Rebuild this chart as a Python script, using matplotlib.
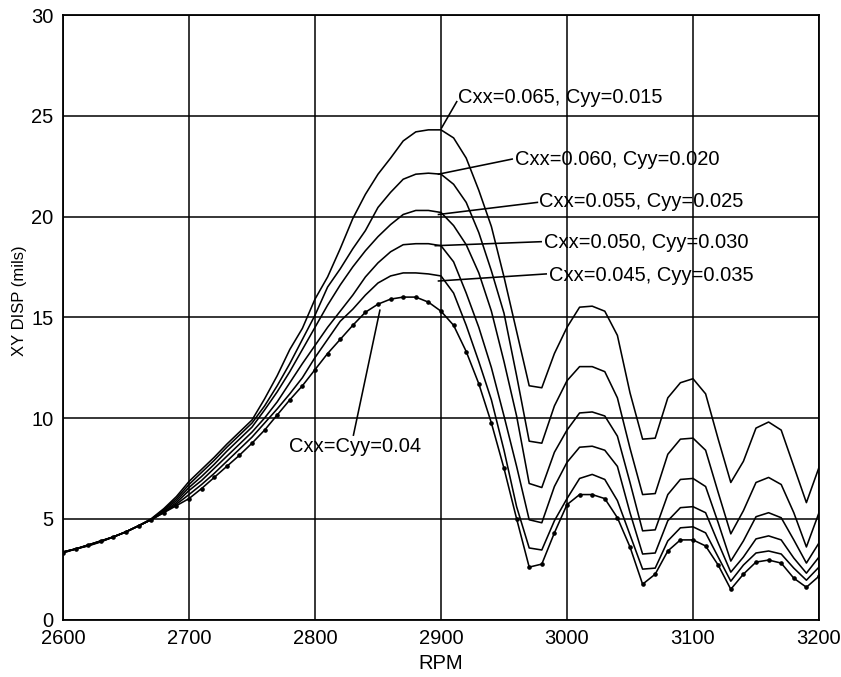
import numpy as np
import matplotlib
matplotlib.use("Agg")
import matplotlib.pyplot as plt

plt.rcParams['font.family'] = ['Liberation Sans', 'DejaVu Sans']

rpm = np.arange(2600, 3201, 10)

c040 = [3.30, 3.50, 3.70, 3.90, 4.10, 4.35, 4.65, 4.95, 5.30, 5.65, 6.00,
        6.50, 7.05, 7.60, 8.15, 8.75, 9.40, 10.15, 10.90, 11.60, 12.40,
        13.20, 13.90, 14.60, 15.25, 15.65, 15.90, 16.00, 16.00, 15.75, 15.30,
        14.60, 13.30, 11.70, 9.75, 7.50, 5.00, 2.60, 2.75, 4.30, 5.70,
        6.20, 6.20, 6.00, 5.05, 3.60, 1.75, 2.25, 3.40, 3.95, 3.95,
        3.65, 2.70, 1.50, 2.25, 2.85, 2.95, 2.80, 2.05, 1.60, 2.15]
c045 = [3.32, 3.50, 3.70, 3.90, 4.10, 4.35, 4.65, 4.95, 5.32, 5.72, 6.20,
        6.70, 7.25, 7.85, 8.45, 9.05, 9.75, 10.45, 11.20, 12.00, 13.00,
        13.90, 14.80, 15.40, 16.10, 16.70, 17.05, 17.20, 17.20, 17.15, 17.05,
        16.20, 14.60, 12.80, 10.90, 8.40, 5.60, 3.55, 3.45, 4.90, 6.00,
        7.00, 7.20, 6.95, 5.90, 4.20, 2.50, 2.55, 3.90, 4.55, 4.60,
        4.30, 3.10, 1.90, 2.70, 3.30, 3.40, 3.25, 2.55, 1.95, 2.60]
c050 = [3.35, 3.50, 3.69, 3.89, 4.10, 4.35, 4.65, 4.96, 5.35, 5.80, 6.40,
        6.90, 7.50, 8.10, 8.70, 9.30, 10.00, 10.80, 11.75, 12.70, 13.60,
        14.50, 15.30, 16.10, 17.00, 17.70, 18.25, 18.60, 18.65, 18.65, 18.55,
        17.75, 16.20, 14.50, 12.50, 10.10, 7.60, 4.95, 4.80, 6.60, 7.80,
        8.55, 8.60, 8.40, 7.60, 5.30, 3.25, 3.30, 4.90, 5.55, 5.60,
        5.30, 3.80, 2.35, 3.10, 4.00, 4.15, 3.95, 3.05, 2.30, 3.10]
c055 = [3.35, 3.50, 3.68, 3.88, 4.10, 4.35, 4.65, 4.96, 5.40, 5.90, 6.55,
        7.10, 7.70, 8.35, 8.95, 9.55, 10.40, 11.30, 12.30, 13.40, 14.50,
        15.60, 16.60, 17.50, 18.30, 19.00, 19.60, 20.10, 20.30, 20.30, 20.20,
        19.55, 18.60, 17.20, 15.30, 12.80, 10.10, 6.75, 6.55, 8.30, 9.40,
        10.25, 10.30, 10.10, 9.10, 6.80, 4.40, 4.45, 6.20, 6.95, 7.00,
        6.60, 4.80, 2.90, 3.90, 5.10, 5.30, 5.05, 3.95, 2.80, 3.80]
c060 = [3.35, 3.50, 3.67, 3.87, 4.10, 4.35, 4.65, 4.97, 5.45, 6.00, 6.70,
        7.30, 7.90, 8.55, 9.15, 9.75, 10.60, 11.60, 12.70, 13.90, 15.10,
        16.50, 17.40, 18.40, 19.30, 20.45, 21.20, 21.85, 22.10, 22.15, 22.10,
        21.60, 20.70, 19.20, 17.30, 15.20, 12.10, 8.85, 8.75, 10.60, 11.85,
        12.55, 12.55, 12.30, 11.00, 8.50, 6.20, 6.25, 8.20, 8.95, 9.00,
        8.40, 6.30, 4.25, 5.40, 6.80, 7.05, 6.70, 5.30, 3.60, 5.30]
c065 = [3.35, 3.50, 3.65, 3.85, 4.10, 4.35, 4.65, 5.00, 5.50, 6.10, 6.85,
        7.45, 8.05, 8.70, 9.30, 9.90, 10.95, 12.10, 13.40, 14.45, 15.90,
        17.00, 18.40, 19.90, 21.10, 22.10, 22.90, 23.75, 24.20, 24.30, 24.30,
        23.90, 22.90, 21.30, 19.50, 17.00, 14.30, 11.60, 11.50, 13.20, 14.50,
        15.50, 15.55, 15.30, 14.10, 11.25, 8.95, 9.00, 11.00, 11.75, 11.95,
        11.20, 8.95, 6.80, 7.85, 9.50, 9.80, 9.40, 7.60, 5.80, 7.55]

labels = ["Cxx=0.065, Cyy=0.015", "Cxx=0.060, Cyy=0.020", "Cxx=0.055, Cyy=0.025",
          "Cxx=0.050, Cyy=0.030", "Cxx=0.045, Cyy=0.035", "Cxx=Cyy=0.04"]
# label text anchor (left, baseline) and leader line (curve point -> text point)
text_xy = [(2913.5, 25.65), (2959.0, 22.55), (2978.0, 20.45),
           (2981.5, 18.45), (2985.5, 16.8), (2779.5, 8.3)]
leader_start = [(2900.5, 24.4), (2898, 22.1), (2898, 20.1),
                (2895.5, 18.55), (2898, 16.8), (2851.5, 15.35)]
leader_end = [(2912.5, 25.7), (2956.5, 22.85), (2976.5, 20.7),
              (2979.5, 18.75), (2983.5, 17.15), (2830.5, 9.15)]

xticks = [2600, 2700, 2800, 2900, 3000, 3100, 3200]
yticks = [0, 5, 10, 15, 20, 25, 30]

fig = plt.figure(figsize=(8.41, 6.77), dpi=100)
ax = fig.add_axes([63 / 841, 1 - 619.5 / 677, (819 - 63) / 841, (619.5 - 15) / 677])

fs = 14.5
for y in (c065, c060, c055, c050, c045):
    ax.plot(rpm, y, color='black', lw=1.15)
ax.plot(rpm, c040, color='black', lw=1.15, marker='o', markersize=2.3)

for lab, (tx, ty), (x0, y0), (x1, y1) in zip(labels, text_xy, leader_start, leader_end):
    ax.plot([x0, x1], [y0, y1], color='black', lw=1.15)
    ax.text(tx, ty, lab, fontsize=fs, ha='left', va='baseline')

ax.set_xlim(2600, 3200)
ax.set_ylim(0, 30)
ax.set_xticks(xticks)
ax.set_yticks(yticks)
ax.grid(True, color='black', lw=1.1)
ax.set_axisbelow(True)
ax.tick_params(length=0, labelsize=fs, pad=7)
for s in ax.spines.values():
    s.set_linewidth(1.3)
    s.set_color('black')

ax.set_xlabel("RPM", fontsize=fs)
ax.xaxis.set_label_coords(0.5, -0.057)
ax.set_ylabel("XY DISP (mils)", fontsize=12)
ax.yaxis.set_label_coords(-0.058, 0.527)
ax.yaxis.label.set_va('center')
ax.yaxis.label.set_ha('center')

fig.savefig("out.png", dpi=100)
